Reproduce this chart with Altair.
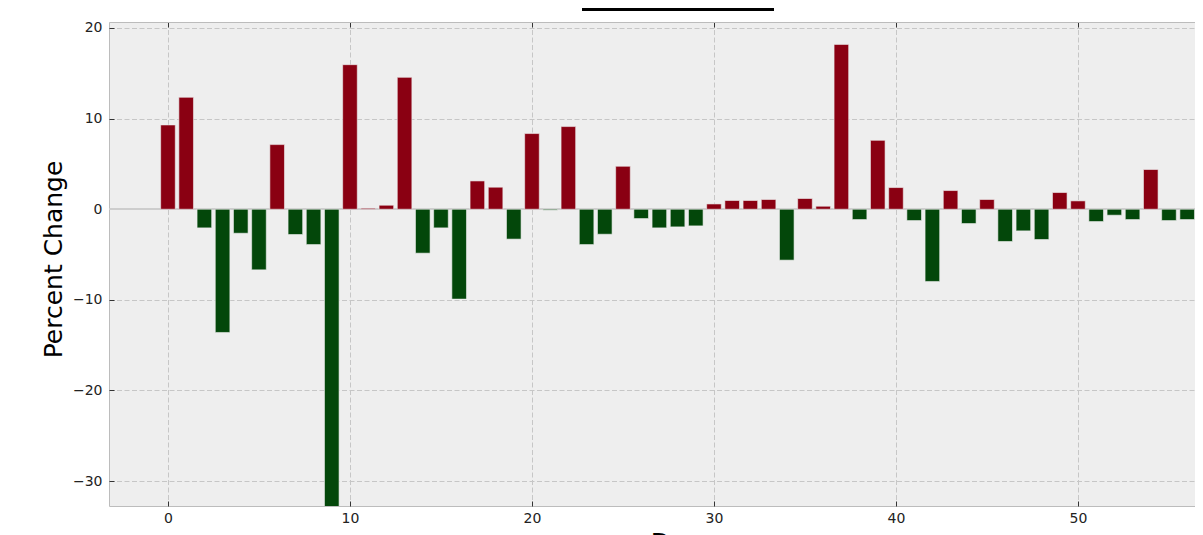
import altair as alt
import pandas as pd

# Data
days = list(range(57))
pct_change = [9.3, 12.35, -2.06, -13.6, -2.65, -6.69, 7.13, -2.79, -3.9, -34.0,
              15.95, 0.11, 0.44, 14.55, -4.85, -2.06, -9.92, 3.12, 2.43, -3.3,
              8.35, -0.1, 9.12, -3.9, -2.76, 4.74, -1.03, -2.06, -1.95, -1.84,
              0.58, 0.96, 0.96, 1.07, -5.62, 1.18, 0.33, 18.19, -1.14, 7.6,
              2.39, -1.25, -7.97, 2.06, -1.58, 1.07, -3.56, -2.39, -3.34, 1.84,
              0.92, -1.36, -0.66, -1.14, 4.38, -1.25, -1.14]
x_ticks = [0, 10, 20, 30, 40, 50]
y_ticks = [-30, -20, -10, 0, 10, 20]

df = pd.DataFrame({"day": days, "pct": pct_change})

RED = "#8a0012"
GREEN = "#03470a"
FONT = "DejaVu Sans"
W, H = 1086, 484

xs = alt.Scale(domain=[-3.24, 56.43], nice=False, zero=False, padding=0)
ys = alt.Scale(domain=[-32.75, 20.66], nice=False, zero=False, padding=0)

grid_kw = dict(grid=True, gridColor="#c6c6c6", gridDash=[5, 2.5], gridWidth=1)
lab_kw = dict(labelFont=FONT, labelFontSize=14, labelColor="#222222")

base = alt.Chart(df)

zero_line = base.mark_rule(color="#cdcdcd", strokeWidth=1).encode(
    y=alt.YDatum(0, scale=ys, axis=None)
)

bars = base.mark_bar(size=14.6, clip=True, stroke="#eeeeee", strokeWidth=0.6).encode(
    x=alt.X("day:Q", scale=xs, axis=alt.Axis(
        orient="bottom", values=x_ticks, ticks=False, tickSize=0,
        domain=True, domainColor="#bcbcbc", domainWidth=1,
        labelPadding=5, title="Day", titleFont=FONT, titleFontSize=25,
        titleFontWeight="normal", titleColor="#000000", titleBaseline="top",
        titleY=24, titleX=566, **lab_kw, **grid_kw)),
    y=alt.Y("pct:Q", scale=ys, axis=alt.Axis(
        orient="left", values=y_ticks, ticks=False, tickSize=0,
        domain=True, domainColor="#bcbcbc", domainWidth=1,
        labelPadding=7, title="Percent Change", titleFont=FONT, titleFontSize=25,
        titleFontWeight="normal", titleColor="#000000", titleBaseline="alphabetic",
        titleX=-48, titleY=237, **lab_kw, **grid_kw)),
    y2=alt.Y2Datum(0),
    color=alt.condition("datum.pct > 0", alt.value(RED), alt.value(GREEN)),
)

tick_kw = dict(ticks=True, tickSize=5, tickColor="#333333", tickWidth=1,
               labels=False, domain=False, grid=False, title=None, offset=-5)

ticks_bl = base.mark_point(opacity=0).encode(
    x=alt.X("day:Q", scale=xs, axis=alt.Axis(orient="bottom", values=x_ticks, **tick_kw)),
    y=alt.Y("pct:Q", scale=ys, axis=alt.Axis(orient="left", values=y_ticks, **tick_kw)),
)

ticks_top = base.mark_point(opacity=0).encode(
    x=alt.X("day:Q", scale=xs, axis=alt.Axis(orient="top", values=x_ticks, **tick_kw)),
    y=alt.Y("pct:Q", scale=ys, axis=None),
)

top_border = base.mark_point(opacity=0).encode(
    x=alt.X("day:Q", scale=xs, axis=alt.Axis(
        orient="top", values=x_ticks, ticks=False, labels=False, grid=False,
        title=None, domain=True, domainColor="#bcbcbc", domainWidth=1)),
    y=alt.Y("pct:Q", scale=ys, axis=None),
)

title_bar = alt.Chart(pd.DataFrame({"t": [0]})).mark_rule(
    color="#000000", strokeWidth=6, clip=False
).encode(x=alt.value(473), x2=alt.value(665), y=alt.value(-14))

chart = alt.layer(
    zero_line, bars, ticks_bl, ticks_top, top_border, title_bar
).resolve_axis(
    x="independent", y="independent"
).properties(
    width=W, height=H,
    autosize=alt.AutoSizeParams(type="none"),
    padding={"left": 101, "top": 14, "right": 0, "bottom": 29},
    background="#ffffff",
).configure_view(fill="#eeeeee", stroke=None)

chart.save("out.html", embed_options={"renderer": "svg", "actions": False})
